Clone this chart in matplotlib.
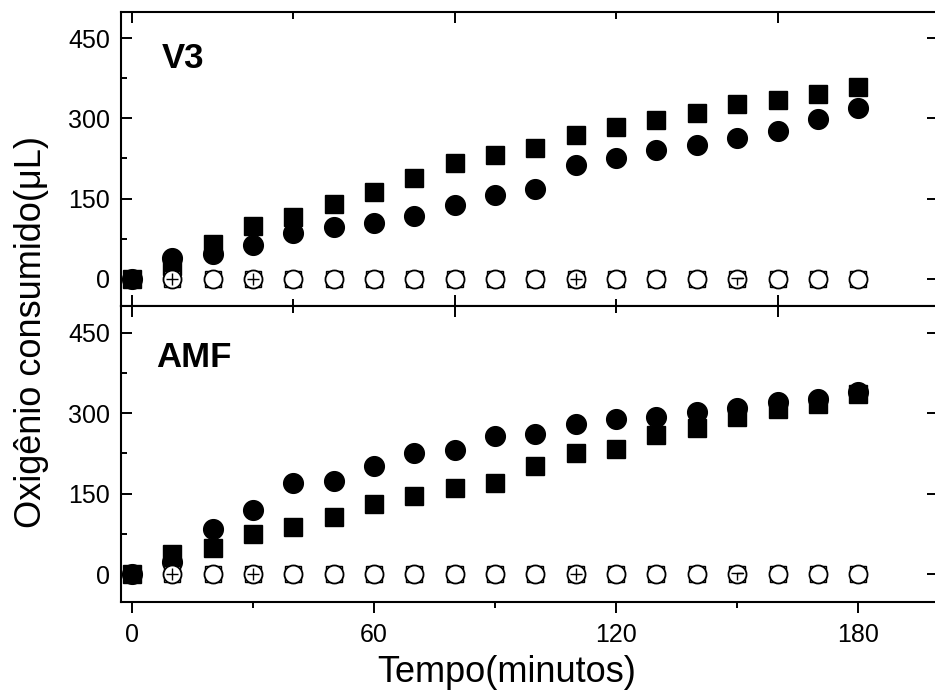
import numpy as np
import matplotlib
matplotlib.use('Agg')
import matplotlib.pyplot as plt
from matplotlib.ticker import MultipleLocator

plt.rcParams['font.family'] = ['Liberation Sans', 'DejaVu Sans']

# tempo (minutos)
tempo = [0, 10, 20, 30, 40, 50, 60, 70, 80, 90, 100, 110, 120, 130, 140, 150, 160, 170, 180]
tempo_ctrl = tempo[1:]

# V3
v3_quad = [0, 23, 65, 98, 115, 139, 163, 188, 216, 232, 244, 268, 284, 296, 310, 326, 334, 345, 359]
v3_circ = [0, 38, 47, 63, 86, 96, 104, 118, 138, 156, 167, 212, 226, 240, 251, 264, 277, 299, 319]

# AMF
amf_quad = [0, 38, 48, 75, 87, 106, 131, 145, 160, 170, 202, 226, 234, 260, 273, 293, 307, 317, 336]
amf_circ = [0, 23, 84, 120, 169, 174, 202, 225, 232, 258, 262, 280, 290, 293, 302, 310, 321, 327, 339]

# controles (zero)
ctrl = [0] * len(tempo_ctrl)
cruz_t = [10, 30, 110]
cruz_y = [0, 0, 0]
tee_t = [150]
tee_y = [0]

paineis = [('V3', v3_quad, v3_circ), ('AMF', amf_quad, amf_circ)]

fig = plt.figure(figsize=(9.35, 6.94), dpi=100)
# eixo direito fica fora da figura (como no original)
ax1 = fig.add_axes([0.1294, 0.5584, 0.8735, 0.4243])
ax2 = fig.add_axes([0.1294, 0.1326, 0.8735, 0.4258])

tee_marker = [(-1, 0.15), (1, 0.15), (0, 0.15), (0, -1)]

for ax, (nome, quad, circ) in zip([ax1, ax2], paineis):
    ax.plot(tempo, quad, 's', color='black', ms=12.4, zorder=3)
    ax.plot(tempo, circ, 'o', color='black', ms=14.2, zorder=4)
    ax.plot(tempo_ctrl, ctrl, 's', mfc='white', mec='black', mew=1.0, ms=11.8, zorder=5)
    ax.plot(tempo_ctrl, ctrl, 'o', mfc='white', mec='black', mew=1.3, ms=13, zorder=6)
    ax.plot(cruz_t, cruz_y, '+', color='black', mew=1.0, ms=9, zorder=7)
    ax.plot(tee_t, tee_y, marker=tee_marker, ls='none', mfc='none', mec='black', mew=1.0, ms=9, zorder=7)

    ax.set_xlim(-2.7, 199.7)
    ax.set_ylim(-52, 499)
    ax.yaxis.set_major_locator(MultipleLocator(150))
    ax.yaxis.set_minor_locator(MultipleLocator(75))
    ax.tick_params(axis='y', which='major', direction='in', length=8, width=1.4,
                   labelsize=18, pad=8, left=True, right=True)
    ax.tick_params(axis='y', which='minor', direction='in', length=4.5, width=1.4,
                   left=True, right=False)
    for s in ax.spines.values():
        s.set_linewidth(1.5)
    ax.text(7.5 if nome == 'V3' else 6.0, 394 if nome == 'V3' else 387, nome,
            fontsize=25, fontweight='bold', va='baseline', ha='left')

# painel de cima: marcas a cada 80/40
ax1.xaxis.set_major_locator(MultipleLocator(80))
ax1.xaxis.set_minor_locator(MultipleLocator(40))
ax1.tick_params(axis='x', which='major', direction='in', length=8, width=1.4,
                top=True, bottom=True, labelbottom=False)
ax1.tick_params(axis='x', which='minor', direction='in', length=5, width=1.4,
                top=True, bottom=True)

# painel de baixo: eixo inferior a cada 60/30
ax2.xaxis.set_major_locator(MultipleLocator(60))
ax2.xaxis.set_minor_locator(MultipleLocator(30))
ax2.tick_params(axis='x', which='major', direction='out', length=8, width=1.4,
                labelsize=18, pad=7, top=False)
ax2.tick_params(axis='x', which='minor', direction='out', length=4, width=1.4, top=False)

axt = ax2.twiny()
axt.set_xlim(ax2.get_xlim())
axt.xaxis.set_major_locator(MultipleLocator(80))
axt.xaxis.set_minor_locator(MultipleLocator(40))
axt.tick_params(axis='x', which='major', direction='in', length=8, width=1.4, labeltop=False)
axt.tick_params(axis='x', which='minor', direction='in', length=5, width=1.4)
for s in axt.spines.values():
    s.set_visible(False)

fig.text(0.542, 0.017, 'Tempo(minutos)', fontsize=26, ha='center', va='baseline')
fig.text(0.034, 0.522, 'Oxigênio consumido(μL)', fontsize=26, rotation=90,
         ha='center', va='center')

fig.savefig('out.png', dpi=100)
